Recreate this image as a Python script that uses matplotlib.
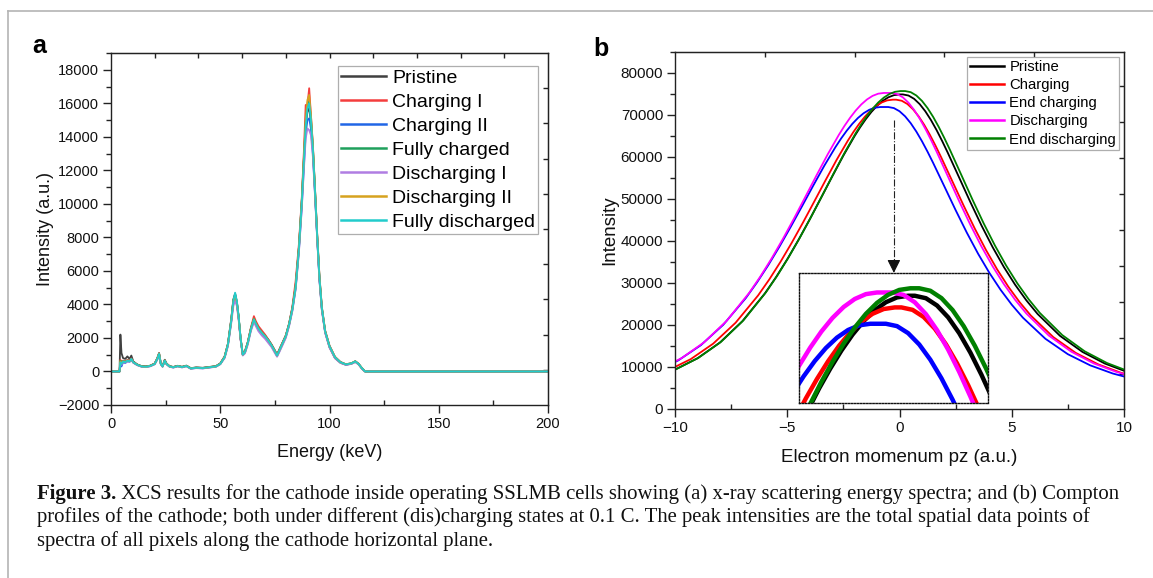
import matplotlib
matplotlib.use('Agg')
import matplotlib.pyplot as plt
from matplotlib.lines import Line2D
from matplotlib.ticker import MultipleLocator, NullFormatter, FixedLocator

plt.rcParams['font.family'] = ['Liberation Sans', 'DejaVu Sans']

# ---------------- Panel a data ----------------
energy = [0, 3.6, 3.9, 4.3, 4.8, 5.5, 6.5, 7.5, 8.5, 9.3,
          10.2, 12, 14, 16, 18, 20, 21.2, 22, 22.8, 23.6,
          24.6, 25.4, 26.8, 28.5, 30.5, 32.5, 34.5, 36.5, 39, 42,
          45, 48, 50, 52, 53.5, 55, 56, 56.8, 57.6, 58.4,
          59.3, 60.3, 61.3, 62.6, 64, 65.4, 66.3, 67.5, 69, 70.5,
          72, 73.5, 75, 76, 77.2, 78.6, 80, 81.5, 83, 84.5,
          86, 87.3, 88.3, 89.1, 89.9, 90.7, 91.5, 92.4, 93.4, 94.4,
          95.4, 96.5, 98, 100, 102.5, 105, 107.5, 110, 111.8, 113.3,
          114.8, 116.3, 120, 200]

pristine_a = [0, 0, 0, 2200, 1100, 800, 750, 900, 750, 950,
              600, 420, 320, 300, 350, 480, 800, 1100, 480, 320,
              700, 480, 320, 270, 340, 280, 350, 200, 240, 220,
              270, 320, 480, 900, 1650, 3100, 4300, 4650, 4150, 3250,
              1950, 1000, 1200, 1750, 2550, 3150, 2900, 2600, 2350, 2150,
              1900, 1600, 1250, 1000, 1350, 1750, 2150, 2850, 3800, 5100,
              7400, 10100, 12700, 14600, 15500, 15700, 14900, 13200, 10600, 7900,
              5500, 3700, 2350, 1450, 800, 520, 400, 460, 580, 430,
              180, 0, 0, 0]
charging1_a = [0, 0, 0, 700, 500, 650, 600, 700, 650, 780,
               560, 410, 310, 290, 340, 470, 780, 1080, 470, 310,
               670, 460, 310, 260, 330, 270, 340, 190, 230, 210,
               260, 310, 470, 880, 1620, 3050, 4250, 4400, 4000, 3200,
               1950, 1050, 1200, 1750, 2600, 3300, 3000, 2700, 2450, 2200,
               1900, 1600, 1250, 1000, 1350, 1750, 2150, 2850, 3850, 5400,
               7600, 10300, 13200, 15900, 15900, 16900, 15300, 13500, 10800, 8100,
               5700, 3850, 2450, 1550, 880, 570, 430, 490, 610, 460,
               210, 0, 0, 0]
charging2_a = [0, 0, 0, 400, 300, 550, 500, 600, 580, 700,
               520, 380, 290, 270, 320, 440, 720, 1000, 440, 290,
               620, 440, 290, 240, 310, 250, 320, 170, 210, 190,
               240, 290, 440, 830, 1550, 2950, 4100, 4500, 4100, 3250,
               1980, 990, 1120, 1680, 2480, 3050, 2800, 2500, 2250, 2050,
               1800, 1500, 1150, 920, 1250, 1650, 2050, 2750, 3650, 4950,
               7200, 9800, 12300, 14200, 15000, 15100, 14500, 13000, 10500, 7900,
               5500, 3750, 2350, 1480, 830, 540, 410, 470, 590, 440,
               190, 0, 0, 0]
fully_charged_a = [0, 0, 0, 650, 500, 620, 570, 660, 620, 760,
                   560, 410, 310, 290, 340, 460, 770, 1070, 460, 310,
                   660, 460, 310, 260, 330, 270, 340, 190, 230, 210,
                   260, 310, 460, 870, 1620, 3020, 4250, 4600, 4150, 3280,
                   2000, 1020, 1170, 1720, 2540, 3150, 2880, 2580, 2330, 2120,
                   1870, 1570, 1220, 970, 1320, 1720, 2120, 2820, 3750, 5100,
                   7400, 10200, 12800, 14900, 15900, 16100, 15100, 13400, 10800, 8050,
                   5650, 3820, 2420, 1520, 860, 560, 430, 490, 610, 460,
                   210, 0, 0, 0]
discharging1_a = [0, 0, 0, 500, 400, 560, 520, 620, 570, 720,
                  530, 380, 280, 260, 310, 430, 720, 1000, 430, 280,
                  620, 430, 280, 230, 300, 240, 310, 160, 200, 180,
                  230, 280, 430, 800, 1500, 2850, 3900, 4250, 3900, 3100,
                  1900, 950, 1080, 1600, 2400, 2950, 2700, 2400, 2150, 1950,
                  1700, 1450, 1100, 880, 1200, 1600, 2000, 2700, 3600, 4900,
                  7100, 9700, 12100, 13900, 14500, 14400, 14100, 12800, 10400, 7800,
                  5400, 3650, 2300, 1420, 790, 510, 390, 450, 560, 420,
                  170, 0, 0, 0]
discharging2_a = [0, 0, 0, 600, 480, 610, 560, 650, 610, 740,
                  550, 400, 300, 280, 330, 450, 760, 1060, 450, 300,
                  650, 450, 300, 250, 320, 260, 330, 180, 220, 200,
                  250, 300, 450, 860, 1600, 3000, 4200, 4550, 4150, 3280,
                  2000, 1000, 1150, 1700, 2520, 3120, 2860, 2560, 2310, 2100,
                  1850, 1550, 1200, 950, 1300, 1700, 2100, 2800, 3720, 5050,
                  7350, 10100, 12900, 15000, 16200, 16500, 15300, 13400, 10750, 8050,
                  5620, 3800, 2400, 1500, 850, 550, 420, 480, 600, 450,
                  200, 0, 0, 0]
fully_discharged_a = [0, 0, 0, 550, 450, 600, 550, 650, 600, 750,
                      550, 400, 300, 280, 330, 450, 750, 1050, 450, 300,
                      650, 450, 300, 250, 320, 260, 330, 180, 220, 200,
                      250, 300, 450, 850, 1600, 3000, 4200, 4700, 4200, 3300,
                      2000, 1000, 1150, 1700, 2500, 3100, 2850, 2550, 2300, 2100,
                      1850, 1550, 1200, 950, 1300, 1700, 2100, 2800, 3700, 5000,
                      7300, 10000, 12600, 14600, 15700, 16000, 15000, 13300, 10700, 8000,
                      5600, 3800, 2400, 1500, 850, 550, 420, 480, 600, 450,
                      200, 0, 0, 0]

labels_a = ['Pristine', 'Charging I', 'Charging II', 'Fully charged',
            'Discharging I', 'Discharging II', 'Fully discharged']
colors_a = ['#404040', '#f43d3d', '#2166e6', '#1fa05c', '#b07de2', '#d6a21f', '#22cccc']
series_a = [pristine_a, charging1_a, charging2_a, fully_charged_a,
            discharging1_a, discharging2_a, fully_discharged_a]

# ---------------- Panel b data ----------------
pz_pristine = [-11, -10, -9, -8, -7, -6, -5.5, -5, -4.5, -4, -3.5, -3, -2.5, -2, -1.75, -1.5,
               -1.25, -1, -0.75, -0.5, -0.25, 0.0,
               0.15, 0.4, 0.65, 0.9, 1.15, 1.4, 1.65, 1.9, 2.15, 2.65, 3.15, 3.65, 4.15, 4.65,
               5.15, 5.65, 6.15, 7.15, 8.15, 9.15, 10.15, 11.15]
int_pristine = [7474, 9378, 12070, 15819, 20893, 27488, 31377, 35645, 40253, 45139, 50211,
                55333, 60333, 64985, 67101, 69029, 70736, 72187, 73353, 74206, 74725, 74900,
                74900, 74636, 73855, 72589, 70885, 68808, 66425, 63806, 61020, 55188, 49332,
                43723, 38520, 33800, 29588, 25874, 22633, 17414, 13588, 10816, 8804, 7321]

pz_charging = [-11.3, -10.3, -9.3, -8.3, -7.3, -6.3, -5.8, -5.3, -4.8, -4.3, -3.8, -3.3, -2.8, -2.3,
               -2.05, -1.8, -1.55, -1.3, -1.05, -0.8, -0.55, -0.3,
               -0.15, 0.1, 0.35, 0.6, 0.85, 1.1, 1.35, 1.6, 1.85, 2.35, 2.85, 3.35, 3.85, 4.35,
               4.85, 5.35, 5.85, 6.85, 7.85, 8.85, 9.85, 10.85]
int_charging = [7350, 9222, 11869, 15555, 20545, 27029, 30853, 35050, 39582, 44386, 49373,
                54410, 59326, 63900, 65981, 67877, 69556, 70982, 72128, 72967, 73478, 73650,
                73650, 73391, 72623, 71378, 69702, 67660, 65317, 62741, 60002, 54267, 48509,
                42993, 37877, 33236, 29094, 25442, 22256, 17123, 13362, 10635, 8657, 7199]

pz_end_charging = [-11.85, -10.85, -9.85, -8.85, -7.85, -6.85, -6.35, -5.85, -5.35, -4.85, -4.35,
                   -3.85, -3.35, -2.85, -2.6, -2.35, -2.1, -1.85, -1.6, -1.35, -1.1, -0.85,
                   -0.5, -0.25, 0, 0.25, 0.5, 0.75, 1, 1.25, 1.5, 2, 2.5, 3, 3.5, 4,
                   4.5, 5, 5.5, 6.5, 7.5, 8.5, 9.5, 10.5]
int_end_charging = [7175, 9003, 11587, 15185, 20056, 26387, 30120, 34217, 38641, 43331, 48200,
                    53117, 57916, 62382, 64413, 66264, 67903, 69296, 70415, 71233, 71732, 71900,
                    71900, 71647, 70897, 69682, 68046, 66052, 63765, 61250, 58576, 52977, 47356,
                    41972, 36977, 32446, 28403, 24838, 21727, 16716, 13044, 10382, 8451, 7028]

pz_discharging = [-11.7, -10.7, -9.7, -8.7, -7.7, -6.7, -6.2, -5.7, -5.2, -4.7, -4.2, -3.7, -3.2,
                  -2.7, -2.45, -2.2, -1.95, -1.7, -1.45, -1.2, -0.95, -0.7,
                  -0.35, -0.1, 0.15, 0.4, 0.65, 0.9, 1.15, 1.4, 1.65, 2.15, 2.65, 3.15, 3.65, 4.15,
                  4.65, 5.15, 5.65, 6.65, 7.65, 8.65, 9.65, 10.65]
int_discharging = [7509, 9422, 12127, 15893, 20991, 27616, 31524, 35812, 40442, 45350, 50446,
                   55592, 60615, 65288, 67414, 69352, 71067, 72524, 73695, 74552, 75074, 75250,
                   75250, 74985, 74200, 72929, 71217, 69130, 66735, 64104, 61305, 55446, 49563,
                   43927, 38700, 33958, 29726, 25995, 22739, 17495, 13652, 10866, 8845, 7355]

pz_end_discharging = [-10.95, -9.95, -8.95, -7.95, -6.95, -5.95, -5.45, -4.95, -4.45, -3.95, -3.45,
                      -2.95, -2.45, -1.95, -1.7, -1.45, -1.2, -0.95, -0.7, -0.45, -0.2, 0.05,
                      0.25, 0.5, 0.75, 1, 1.25, 1.5, 1.75, 2, 2.25, 2.75, 3.25, 3.75, 4.25, 4.75,
                      5.25, 5.75, 6.25, 7.25, 8.25, 9.25, 10.25, 11.25]
int_end_discharging = [7554, 9478, 12199, 15988, 21117, 27781, 31712, 36026, 40683, 45621, 50748,
                       55924, 60977, 65679, 67817, 69767, 71492, 72958, 74136, 74998, 75523, 75700,
                       75700, 75434, 74644, 73365, 71642, 69543, 67135, 64487, 61672, 55777, 49859,
                       44190, 38932, 34161, 29904, 26151, 22875, 17600, 13733, 10931, 8898, 7399]

labels_b = ['Pristine', 'Charging', 'End charging', 'Discharging', 'End discharging']
colors_b = ['#000000', '#ff0000', '#0000ff', '#ff00ff', '#008000']
series_b = [(pz_pristine, int_pristine), (pz_charging, int_charging),
            (pz_end_charging, int_end_charging), (pz_discharging, int_discharging),
            (pz_end_discharging, int_end_discharging)]

# extra tick positions on top / right axes (as drawn in the original)
top_ticks_a = [20, 40, 60, 80, 100, 120, 140, 160, 180]
right_ticks_a = [100, 2200, 4300, 6400, 8500, 10600, 12700, 14800, 16900]
top_ticks_b = [-6, -2, 2, 6]
right_ticks_b = [8400, 16950, 25500, 34050, 42600, 51150, 59700, 68250, 76800]

# inset: zoom window and its placement (data coords of panel b)
inset_bounds = [-4.47, 1400, 8.42, 30900]
inset_xlim = (-2.45, 1.8)
inset_ylim = (63400, 77300)
arrow_x = -0.25
arrow_y_start = 68800
arrow_y_end = 32400

caption_lines = [
    ('Figure 3.', ' XCS results for the cathode inside operating SSLMB cells showing (a) x-ray scattering energy spectra; and (b) Compton'),
    ('', 'profiles of the cathode; both under different (dis)charging states at 0.1 C. The peak intensities are the total spatial data points of'),
    ('', 'spectra of all pixels along the cathode horizontal plane.'),
]

# ---------------- Figure ----------------
W, H = 1153, 578
fig = plt.figure(figsize=(W / 100, H / 100), dpi=100)


def box(l, t, r, b):
    return [l / W, 1 - b / H, (r - l) / W, (b - t) / H]


spine_col = '#222222'


def style_axes(ax, lsize):
    for s in ax.spines.values():
        s.set_linewidth(1.0)
        s.set_color(spine_col)
    ax.tick_params(which='both', top=False, right=False, colors=spine_col, width=1.0)
    ax.tick_params(axis='y', which='major', direction='out', length=6, labelsize=lsize, pad=2.5)
    ax.tick_params(axis='y', which='minor', direction='out', length=3.5)
    ax.tick_params(axis='x', which='major', direction='out', length=6, labelsize=lsize, pad=3)
    ax.tick_params(axis='x', which='minor', direction='in', length=3.5)
    ax.tick_params(labelcolor='#111111')


def extra_ticks(ax, tops, rights):
    st = ax.secondary_xaxis('top')
    st.xaxis.set_major_locator(FixedLocator(tops))
    st.xaxis.set_major_formatter(NullFormatter())
    st.tick_params(direction='in', length=3.5, width=1.0, colors=spine_col)
    st.spines['top'].set_color(spine_col)
    sr = ax.secondary_yaxis('right')
    sr.yaxis.set_major_locator(FixedLocator(rights))
    sr.yaxis.set_major_formatter(NullFormatter())
    sr.tick_params(direction='in', length=3.5, width=1.0, colors=spine_col)
    sr.spines['right'].set_color(spine_col)


# Panel a
axa = fig.add_axes(box(111, 53, 548, 405))
for lab, col, vals in zip(labels_a, colors_a, series_a):
    axa.plot(energy, vals, color=col, lw=1.3, label=lab)
axa.set_xlim(0, 200)
axa.set_ylim(-2000, 19000)
axa.xaxis.set_major_locator(MultipleLocator(50))
axa.xaxis.set_minor_locator(MultipleLocator(25))
axa.yaxis.set_major_locator(MultipleLocator(2000))
axa.yaxis.set_minor_locator(MultipleLocator(1000))
style_axes(axa, 10.5)
extra_ticks(axa, top_ticks_a, right_ticks_a)
axa.set_xlabel('Energy (keV)', fontsize=13, labelpad=9, color='#111111')
axa.set_ylabel('Intensity (a.u.)', fontsize=13, labelpad=3, color='#111111')
lega = axa.legend(loc='upper left', bbox_to_anchor=(338 / W, 1 - 66 / H),
                  bbox_transform=fig.transFigure, fontsize=14, frameon=True,
                  fancybox=False, borderpad=0.15, labelspacing=0.33, handlelength=2.3,
                  handletextpad=0.35, borderaxespad=0)
lega.get_frame().set_edgecolor('#9a9a9a')
lega.get_frame().set_linewidth(0.9)
for h in lega.get_lines():
    h.set_linewidth(1.8)

# Panel b
axb = fig.add_axes(box(675, 52, 1124, 409))
for lab, col, (xs, ys) in zip(labels_b, colors_b, series_b):
    axb.plot(xs, ys, color=col, lw=1.3, label=lab)
axb.set_xlim(-10, 10)
axb.set_ylim(0, 85000)
axb.xaxis.set_major_locator(MultipleLocator(5))
axb.xaxis.set_minor_locator(MultipleLocator(2.5))
axb.yaxis.set_major_locator(MultipleLocator(10000))
axb.yaxis.set_minor_locator(MultipleLocator(5000))
style_axes(axb, 11)
extra_ticks(axb, top_ticks_b, right_ticks_b)
axb.set_xlabel('Electron momenum pz (a.u.)', fontsize=13.5, labelpad=10, color='#111111')
axb.set_ylabel('Intensity', fontsize=13.5, labelpad=2, color='#111111')
legb = axb.legend(loc='upper left', bbox_to_anchor=(967 / W, 1 - 57 / H),
                  bbox_transform=fig.transFigure, fontsize=10.7, frameon=True,
                  fancybox=False, borderpad=0.2, labelspacing=0.28, handlelength=2.3,
                  handletextpad=0.35, borderaxespad=0)
legb.get_frame().set_edgecolor('#9a9a9a')
legb.get_frame().set_linewidth(0.9)
for h in legb.get_lines():
    h.set_linewidth(1.8)

# inset
axi = axb.inset_axes(inset_bounds, transform=axb.transData)
for col, (xs, ys) in zip(colors_b, series_b):
    axi.plot(xs, ys, color=col, lw=3.2)
axi.set_xlim(*inset_xlim)
axi.set_ylim(*inset_ylim)
axi.set_xticks([])
axi.set_yticks([])
axi.patch.set_alpha(0)
for s in axi.spines.values():
    s.set_linestyle((0, (1, 1.2)))
    s.set_linewidth(1.0)
    s.set_color('#111111')

# arrow
axb.plot([arrow_x, arrow_x], [arrow_y_start, arrow_y_end + 3000], color='#222222',
         lw=0.8, ls='-.')
axb.annotate('', xy=(arrow_x, arrow_y_end), xytext=(arrow_x, arrow_y_end + 3000),
             arrowprops=dict(arrowstyle='-|>,head_length=0.8,head_width=0.4',
                             color='#111111', lw=0.8, shrinkA=0, shrinkB=0))

# panel labels
fig.text(32 / W, 1 - 53 / H, 'a', fontsize=18, fontweight='bold', va='baseline')
fig.text(593 / W, 1 - 56 / H, 'b', fontsize=18, fontweight='bold', va='baseline')

# figure frame lines (top and left)
fig.add_artist(Line2D([8 / W, 1], [1 - 11 / H, 1 - 11 / H], transform=fig.transFigure,
                      color='#b4b4b4', lw=1.2))
fig.add_artist(Line2D([8 / W, 8 / W], [0, 1 - 11 / H], transform=fig.transFigure,
                      color='#b4b4b4', lw=1.2))

# caption
renderer = fig.canvas.get_renderer()
cap_left = 37
cap_target = 1122 - 37
serif = ['Liberation Serif', 'DejaVu Serif']
base = 13.0
tb = fig.text(0, 0, caption_lines[0][0], family=serif, weight='bold', fontsize=base)
tr = fig.text(0, 0, caption_lines[0][1], family=serif, fontsize=base)
wsum = tb.get_window_extent(renderer).width + tr.get_window_extent(renderer).width
tb.remove()
tr.remove()
cap_fs = base * cap_target / wsum
baselines = [499, 522, 546]
for (bold, rest), yb in zip(caption_lines, baselines):
    x0 = cap_left
    if bold:
        t = fig.text(x0 / W, 1 - yb / H, bold, family=serif, weight='bold',
                     fontsize=cap_fs, va='baseline', color='#111111')
        x0 = x0 + t.get_window_extent(renderer).width
    fig.text(x0 / W, 1 - yb / H, rest, family=serif, fontsize=cap_fs,
             va='baseline', color='#111111')

fig.savefig('out.png', dpi=100)
